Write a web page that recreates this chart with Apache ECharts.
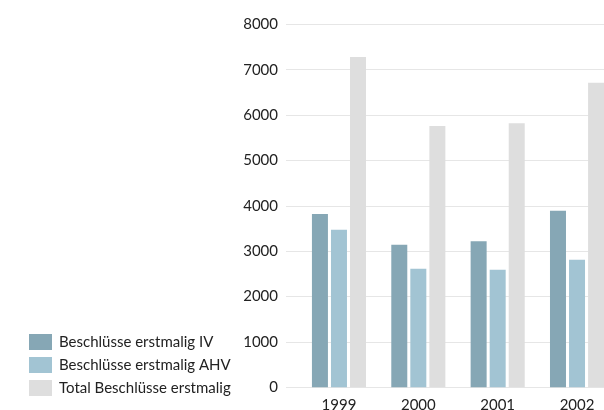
<!DOCTYPE html>
<html><head><meta charset="utf-8">
<script src="https://cdn.jsdelivr.net/npm/echarts@6/dist/echarts.min.js"></script>
<style>html,body{margin:0;padding:0;background:#fff}#c{width:604px;height:410px}</style>
</head><body><div id="c"></div>
<script>
const categories = ['1999', '2000', '2001', '2002'];
const seriesNames = ['Beschlüsse erstmalig IV', 'Beschlüsse erstmalig AHV', 'Total Beschlüsse erstmalig'];
const valuesIV = [3820, 3140, 3220, 3890];
const valuesAHV = [3470, 2610, 2590, 2810];
const valuesTotal = [7280, 5760, 5820, 6710];
const yTicks = { min: 0, max: 8000, interval: 1000 };

const colors = ['#86a7b5', '#a2c4d3', '#dedede'];
const font = 'Lato, "DejaVu Sans", sans-serif';
const chart = echarts.init(document.getElementById('c'));
chart.setOption({
  animation: false,
  textStyle: { fontFamily: font },
  grid: [
    { left: 299.3, width: 317.4, top: 24.3, bottom: 22.7, outerBoundsMode: 'none', containLabel: false },
    { left: 286, right: 0, top: 24.3, bottom: 22.7, outerBoundsMode: 'none', containLabel: false }
  ],
  legend: {
    orient: 'vertical', left: 29, top: 334, padding: 0,
    itemWidth: 23, itemHeight: 16, itemGap: 7,
    icon: 'rect',
    textStyle: { fontSize: 15, color: '#222', fontFamily: font, padding: [0, 0, 0, 2] },
    data: seriesNames
  },
  xAxis: [
    { type: 'category', gridIndex: 0, data: categories,
      axisLine: { show: false }, axisTick: { show: false },
      axisLabel: { fontSize: 15, color: '#222', margin: 10, fontFamily: font } },
    { type: 'category', gridIndex: 1, data: categories, show: false }
  ],
  yAxis: [
    { type: 'value', gridIndex: 0, min: yTicks.min, max: yTicks.max, interval: yTicks.interval, show: false },
    { type: 'value', gridIndex: 1, min: yTicks.min, max: yTicks.max, interval: yTicks.interval,
      axisLine: { show: false }, axisTick: { show: false },
      axisLabel: { fontSize: 15, color: '#222', margin: 8, fontFamily: font, formatter: v => String(v) },
      splitLine: { lineStyle: { color: '#e6e6e6', width: 1 } } }
  ],
  series: [
    { name: seriesNames[0], type: 'bar', xAxisIndex: 0, yAxisIndex: 0, data: valuesIV, barWidth: 16, barGap: '19%', itemStyle: { color: colors[0] } },
    { name: seriesNames[1], type: 'bar', xAxisIndex: 0, yAxisIndex: 0, data: valuesAHV, barWidth: 16, barGap: '19%', itemStyle: { color: colors[1] } },
    { name: seriesNames[2], type: 'bar', xAxisIndex: 0, yAxisIndex: 0, data: valuesTotal, barWidth: 16, barGap: '19%', itemStyle: { color: colors[2] } }
  ]
});
</script></body></html>
